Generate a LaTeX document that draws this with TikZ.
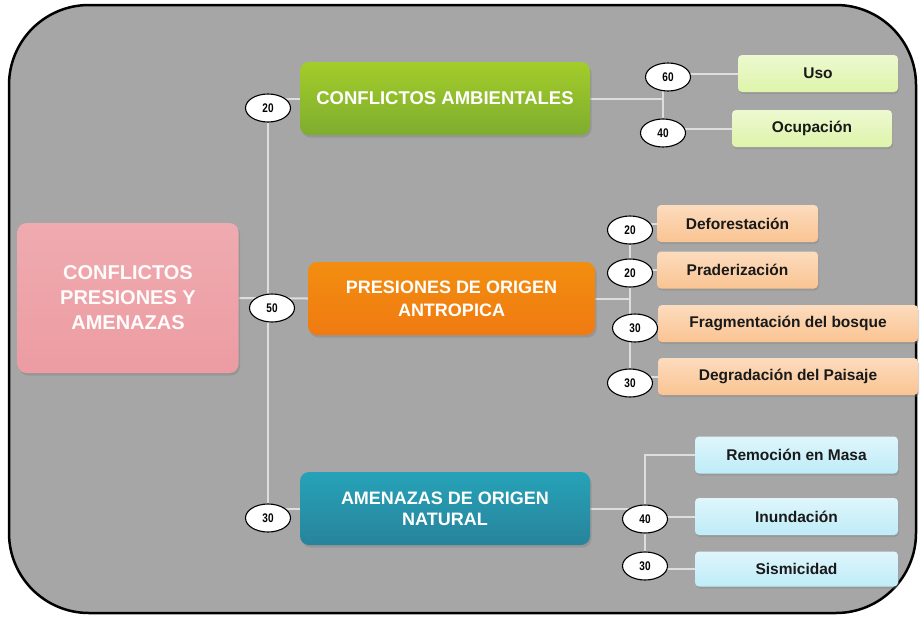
\documentclass[tikz,border=0pt]{standalone}
\usepackage{fontspec}
\setmainfont{Liberation Sans}
\newfontfamily\numfont[FakeStretch=0.8]{Liberation Sans}
\usepackage{xcolor}
\usepackage{tikz}
\usetikzlibrary{
    positioning,
    shapes.geometric,
    shadows
}
\definecolor{panelGray}{RGB}{166, 166, 166}
\definecolor{wireGray}{RGB}{222, 222, 222}
\definecolor{rootPink}{RGB}{236, 156, 162}
\definecolor{ambGreen}{RGB}{140, 192, 52}
\definecolor{antOrange}{RGB}{240, 122, 18}
\definecolor{natBlue}{RGB}{44, 146, 172}
\definecolor{subGreen}{RGB}{222, 244, 170}
\definecolor{subOrange}{RGB}{250, 196, 146}
\definecolor{subBlue}{RGB}{190, 236, 248}
\pgfdeclarelayer{panel}
\pgfdeclarelayer{wires}
\pgfsetlayers{panel,wires,main}

\begin{document}
\begin{tikzpicture}[x=1pt, y=-1pt,
    mainbox/.style={rounded corners=9pt, draw=none, align=center, text=white,
        font=\bfseries\fontsize{18.5}{23}\selectfont, minimum width=290pt, minimum height=73pt,
        inner sep=0pt, drop shadow={opacity=0.4, shadow xshift=1.5pt, shadow yshift=-2.5pt}},
    subbox/.style={rounded corners=4pt, draw=none, text=black!90,
        font=\bfseries\fontsize{15.5}{18}\selectfont, minimum height=37pt, inner sep=0pt,
        drop shadow={opacity=0.35, shadow xshift=1pt, shadow yshift=-2pt}},
    num/.style={ellipse, draw=black, line width=1.1pt, fill=white, minimum width=45pt,
        minimum height=28pt, inner sep=0pt, font=\numfont\bfseries\fontsize{12.5}{13}\selectfont},
    wire/.style={draw=wireGray, line width=2pt}
    ]
    \useasboundingbox (0,0) rectangle (920,616);
    \begin{pgfonlayer}{panel}
        \draw[line width=2.5pt, fill=panelGray, rounded corners=80pt] (9,5) rectangle (916,613);
    \end{pgfonlayer}

    \node[mainbox, top color=rootPink!85!white, bottom color=rootPink, minimum width=221pt,
        minimum height=150pt, font=\bfseries\fontsize{20}{25}\selectfont, text=white!95!pink]
        (root) at (128,298) {CONFLICTOS\\PRESIONES Y\\AMENAZAS};
    \node[mainbox, top color=ambGreen!80!yellow, bottom color=ambGreen!90!black] (amb) at (445,98.5)
        {CONFLICTOS AMBIENTALES};
    \node[mainbox, top color=antOrange!85!yellow, bottom color=antOrange, minimum width=287pt,
        font=\bfseries\fontsize{18}{23}\selectfont] (ant) at (451.5,298.5) {PRESIONES DE ORIGEN\\ANTROPICA};
    \node[mainbox, top color=natBlue!85!cyan, bottom color=natBlue!90!black,
        font=\bfseries\fontsize{18}{21}\selectfont] (nat) at (445,508.5) {AMENAZAS DE ORIGEN\\NATURAL};

    \node[num] (n20) at (268,108) {20};
    \node[num] (n50) at (272,308) {50};
    \node[num] (n30) at (268,518) {30};

    \node[subbox, top color=subGreen!55!white, bottom color=subGreen, minimum width=160pt] (uso) at (818,73.5) {Uso};
    \node[subbox, top color=subGreen!55!white, bottom color=subGreen, minimum width=160pt] (ocu) at (812,128.5) {Ocupación};
    \node[num] (a60) at (668,77) {60};
    \node[num] (a40) at (663,133) {40};

    \node[subbox, top color=subOrange!60!white, bottom color=subOrange, minimum width=161pt] (def) at (737.5,223.5) {Deforestación};
    \node[subbox, top color=subOrange!60!white, bottom color=subOrange, minimum width=161pt] (pra) at (737.5,270) {Praderización};
    \node[subbox, top color=subOrange!60!white, bottom color=subOrange, minimum width=260pt] (fra) at (788,323.5) {Fragmentación del bosque};
    \node[subbox, top color=subOrange!60!white, bottom color=subOrange, minimum width=260pt] (deg) at (788,376.5) {Degradación del Paisaje};
    \node[num] (o1) at (630,230) {20};
    \node[num] (o2) at (630,273) {20};
    \node[num] (o3) at (635,328) {30};
    \node[num] (o4) at (630,383) {30};

    \node[subbox, top color=subBlue!50!white, bottom color=subBlue, minimum width=203pt] (rem) at (796.5,455) {Remoción en Masa};
    \node[subbox, top color=subBlue!50!white, bottom color=subBlue, minimum width=203pt] (inu) at (796.5,516.5) {Inundación};
    \node[subbox, top color=subBlue!50!white, bottom color=subBlue, minimum width=203pt, minimum height=35pt] (sis) at (796.5,569) {Sismicidad};
    \node[num] (b40) at (645,519) {40};
    \node[num] (b30) at (645,566) {30};

    \begin{pgfonlayer}{wires}
        \draw[wire] (n20) -- (n30);
        \draw[wire] (root.east) -- (ant.west);
        \draw[wire] (amb.west) -- (amb.west -| n20);
        \draw[wire] (nat.west) -- (nat.west -| n30);

        \draw[wire] (amb.east) -- (amb.east -| a40);
        \draw[wire] (uso.west) -| (a40);
        \draw[wire] (ocu.west) -- (ocu.west -| a40);

        \draw[wire] (ant.east) -- (ant.east -| o1);
        \draw[wire] (o1) -- (o4);
        \draw[wire] (def.west) -- (def.west -| o1);
        \draw[wire] (pra.west) -- (pra.west -| o2);
        \draw[wire] (fra.west) -- (fra.west -| o3);
        \draw[wire] (deg.west) -- (deg.west -| o4);

        \draw[wire] (nat.east) -- (nat.east -| b40);
        \draw[wire] (rem.west) -| (b30);
        \draw[wire] (inu.west) -- (inu.west -| b40);
        \draw[wire] (sis.west) -- (sis.west -| b30);
    \end{pgfonlayer}
\end{tikzpicture}
\end{document}
